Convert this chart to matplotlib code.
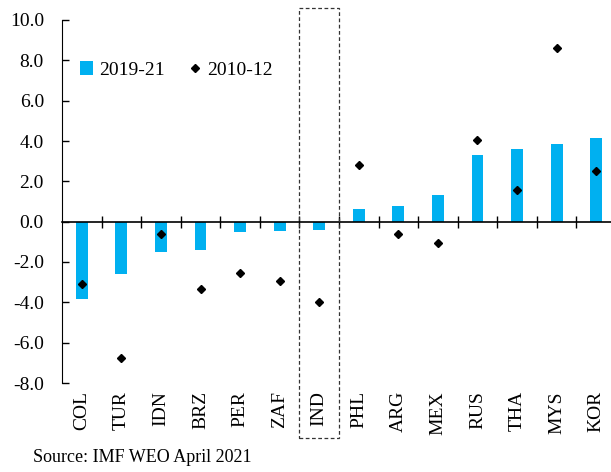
import matplotlib
matplotlib.use("Agg")
import matplotlib.pyplot as plt
from matplotlib.patches import Rectangle

# ── Data ─────────────────────────────────────────────────────────────────────────
countries = ["COL", "TUR", "IDN", "BRZ", "PER", "ZAF", "IND",
             "PHL", "ARG", "MEX", "RUS", "THA", "MYS", "KOR"]
val_2019_21 = [-3.85, -2.6, -1.5, -1.4, -0.5, -0.45, -0.4,
               0.65, 0.78, 1.3, 3.3, 3.6, 3.85, 4.15]
val_2010_12 = [-3.1, -6.75, -0.6, -3.35, -2.55, -2.95, -4.0,
               2.8, -0.6, -1.05, 4.05, 1.55, 8.6, 2.5]

BLUE = "#00B0F0"

plt.rcParams["font.family"] = ["Liberation Serif", "DejaVu Serif"]
plt.rcParams["font.size"] = 14

fig = plt.figure(figsize=(6.11, 4.72), dpi=100)
ax = fig.add_axes([62 / 611, 1 - 383 / 472, 554 / 611, 363 / 472])

x = list(range(len(countries)))
bars = ax.bar(x, val_2019_21, width=0.3, color=BLUE, label="2019-21", zorder=2)
dots, = ax.plot(x, val_2010_12, linestyle="none", marker="D", markersize=4.5,
                color="black", label="2010-12", zorder=3)

ax.set_xlim(-0.5, len(countries) - 0.5)
ax.set_ylim(-8, 10)
ax.set_yticks(range(-8, 11, 2))
ax.set_yticklabels([f"{v:.1f}" for v in range(-8, 11, 2)])
ax.tick_params(axis="y", direction="in", length=5, width=1, pad=13)

# x axis sits on zero, ticks between categories, labels at the bottom
ax.spines["top"].set_visible(False)
ax.spines["right"].set_visible(False)
ax.spines["bottom"].set_position(("data", 0))
ax.spines["bottom"].set_linewidth(1.2)
ax.set_xticks([i + 0.5 for i in x[:-1]])
ax.set_xticklabels([])
ax.tick_params(axis="x", direction="inout", length=9, width=1)
for i, c in zip(x, countries):
    ax.text(i, -8.4, c, rotation=90, ha="center", va="top")

# dashed box around India
ax.add_patch(Rectangle((5.5, -10.72), 1.0, 21.32, fill=False, linestyle=(0, (3, 2)),
                       edgecolor="#333333", linewidth=0.9, clip_on=False, zorder=4))

ax.legend(handles=[bars, dots], loc="upper left", bbox_to_anchor=(0.0, 0.935),
          ncol=2, frameon=False, handlelength=0.7, handleheight=0.7,
          handletextpad=0.3, columnspacing=1.2, fontsize=14)

fig.text(33 / 611, 1 - 458 / 472, "Source: IMF WEO April 2021", fontsize=13,
         va="center", ha="left")

fig.savefig("out.png", dpi=100)
